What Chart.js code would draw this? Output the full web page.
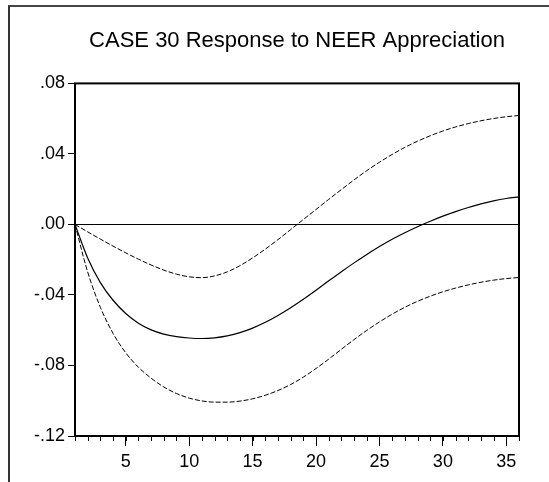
<!DOCTYPE html>
<html>
<head>
<meta charset="utf-8">
<script src="https://cdn.jsdelivr.net/npm/chart.js@4.4.1/dist/chart.umd.min.js"></script>
<style>
  body{margin:0;background:#fff;}
  #wrap{position:relative;width:549px;height:482px;overflow:hidden;}
  #frame{position:absolute;left:8px;top:5px;width:600px;height:600px;border-left:2px solid #333;border-top:2px solid #444;}
  #c{position:absolute;left:0;top:0;}
</style>
</head>
<body>
<div id="wrap">
  <div id="frame"></div>
  <canvas id="c" width="549" height="482"></canvas>
</div>
<script>
const periods=[1,2,3,4,5,6,7,8,9,10,11,12,13,14,15,16,17,18,19,20,21,22,23,24,25,26,27,28,29,30,31,32,33,34,35,36];
// impulse response (solid)
const response=[0,-0.019,-0.033,-0.043,-0.0505,-0.056,-0.0598,-0.0622,-0.0636,-0.0644,-0.0647,-0.0643,-0.0632,-0.0614,-0.0588,-0.0555,-0.0516,-0.0472,-0.0424,-0.0373,-0.0320,-0.0268,-0.0218,-0.0170,-0.0125,-0.0084,-0.0047,-0.0013,0.0018,0.0047,0.0073,0.0096,0.0117,0.0134,0.0147,0.0156];
// +/- 2 s.e. bands (dashed)
const upperBand=[0,-0.0042,-0.0083,-0.0123,-0.0161,-0.0197,-0.0230,-0.0259,-0.0282,-0.0297,-0.0302,-0.0292,-0.0269,-0.0234,-0.0190,-0.0140,-0.0086,-0.0029,0.0028,0.0085,0.0142,0.0198,0.0253,0.0305,0.0353,0.0397,0.0437,0.0472,0.0503,0.0530,0.0553,0.0572,0.0588,0.0601,0.0611,0.0618];
const lowerBand=[0,-0.027,-0.047,-0.0618,-0.0728,-0.0810,-0.0872,-0.0922,-0.0959,-0.0985,-0.1001,-0.1008,-0.1008,-0.1002,-0.0989,-0.0969,-0.0942,-0.0908,-0.0866,-0.0817,-0.0764,-0.0708,-0.0653,-0.0601,-0.0553,-0.0509,-0.0470,-0.0436,-0.0407,-0.0382,-0.0361,-0.0343,-0.0328,-0.0316,-0.0307,-0.0301];
const xTicks=[5,10,15,20,25,30,35];
const yTicks=[-0.12,-0.08,-0.04,0,0.04,0.08];

Chart.defaults.font.family="'Liberation Sans', Arial, sans-serif";
Chart.defaults.color='#000';

const toPts=arr=>arr.map((v,i)=>({x:periods[i],y:v}));
const fmt=v=>(v<0?'-':'')+Math.abs(v).toFixed(2).replace(/^0/,'');

// box round the plot + small ticks at every period
const framePlugin={
  id:'framePlugin',
  afterDraw(chart){
    const {ctx,chartArea:a,scales:{x}}=chart;
    ctx.save();
    ctx.strokeStyle='#000';
    ctx.lineWidth=1;
    ctx.beginPath();
    periods.forEach(p=>{
      const px=Math.round(x.getPixelForValue(p))+0.5;
      ctx.moveTo(px,a.bottom);
      ctx.lineTo(px,a.bottom+5);
    });
    ctx.stroke();
    ctx.lineWidth=2;
    ctx.strokeRect(a.left,a.top,a.right-a.left,a.bottom-a.top);
    ctx.restore();
  }
};

new Chart(document.getElementById('c').getContext('2d'),{
  type:'line',
  data:{
    datasets:[
      {data:toPts(response),borderColor:'#000',borderWidth:1.2,pointRadius:0,cubicInterpolationMode:'monotone'},
      {data:toPts(upperBand),borderColor:'#000',borderWidth:1,borderDash:[5,2],pointRadius:0,cubicInterpolationMode:'monotone'},
      {data:toPts(lowerBand),borderColor:'#000',borderWidth:1,borderDash:[5,2],pointRadius:0,cubicInterpolationMode:'monotone'}
    ]
  },
  options:{
    responsive:false,
    animation:false,
    devicePixelRatio:1,
    layout:{padding:{left:0,right:30,top:0,bottom:0}},
    plugins:{
      legend:{display:false},
      tooltip:{enabled:false},
      title:{
        display:true,
        fullSize:false,
        text:'CASE 30 Response to NEER Appreciation',
        color:'#000',
        font:{size:22,weight:'normal'},
        padding:{top:28,bottom:29}
      }
    },
    scales:{
      x:{
        type:'linear',
        min:1,max:36,
        afterBuildTicks:s=>{s.ticks=xTicks.map(v=>({value:v}));},
        afterFit:s=>{s.height=46;},
        border:{display:false},
        grid:{drawOnChartArea:false,tickLength:10,color:'#000',lineWidth:1},
        ticks:{font:{size:18},padding:5,maxRotation:0,callback:v=>String(v)}
      },
      y:{
        min:-0.12,max:0.08,
        afterBuildTicks:s=>{s.ticks=yTicks.map(v=>({value:v}));},
        afterFit:s=>{s.width=75;},
        border:{display:false},
        grid:{
          drawOnChartArea:true,
          tickLength:7,
          tickColor:'#000',
          color:c=>(c.tick && c.tick.value===0)?'#000':'rgba(0,0,0,0)',
          lineWidth:1
        },
        ticks:{font:{size:18},padding:3,callback:v=>fmt(v)}
      }
    }
  },
  plugins:[framePlugin]
});
</script>
</body>
</html>
